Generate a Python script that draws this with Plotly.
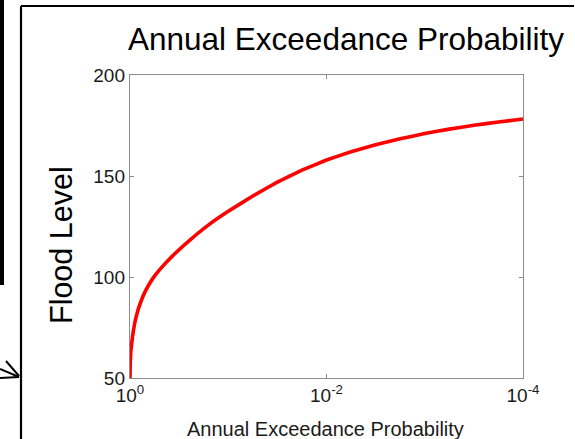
import plotly.graph_objects as go

# Data
aep = [1.0, 0.9954, 0.9817, 0.9397, 0.869, 0.7727, 0.6871, 0.5875, 0.5035,
       0.3631, 0.2455, 0.1535, 0.1, 0.05623, 0.03162, 0.01778, 0.01,
       0.005623, 0.003162, 0.001778, 0.001, 0.0005623, 0.0003162,
       0.0001778, 0.0001]
flood_level = [50, 57, 63, 71, 80, 88, 93.6, 99.2, 103.4,
               110.8, 118.3, 126.3, 132.5, 140.1, 147, 152.9, 157.9,
               162, 165.5, 168.4, 171, 173.2, 175.1,
               176.75, 178.2]

x_tickvals = [1, 1e-2, 1e-4]
x_ticktext = ["10<sup>0</sup>", "10<sup>-2</sup>", "10<sup>-4</sup>"]
y_tickvals = [50, 100, 150, 200]

FONT = "Arial, Liberation Sans, sans-serif"

W, H = 575, 439
# plot area in pixels (for decoration placement)
L, R, T, B = 130, 523, 75, 378
def px(xp):
    return (xp - L) / (R - L)
def py(yp):
    return (B - yp) / (B - T)

fig = go.Figure()
fig.add_trace(go.Scatter(
    x=aep, y=flood_level, mode="lines",
    line=dict(color="#ff0000", width=3.6, shape="spline", smoothing=0.25),
    hoverinfo="skip", showlegend=False,
))

axis_common = dict(
    showgrid=False, zeroline=False, showline=True, linecolor="#8c8c8c",
    linewidth=1.2, mirror="ticks", ticks="inside", ticklen=4,
    tickcolor="#8c8c8c", tickwidth=1,
    tickfont=dict(family=FONT, size=19, color="#1a1a1a"),
)

fig.update_layout(
    width=W, height=H,
    margin=dict(l=L, r=W - R, t=T, b=H - B),
    paper_bgcolor="white", plot_bgcolor="white",
    xaxis=dict(type="log", range=[0, -4], tickvals=x_tickvals,
               ticktext=x_ticktext, **axis_common),
    yaxis=dict(range=[50, 200], tickvals=y_tickvals, **axis_common),
    showlegend=False,
)

fig.add_annotation(text="Annual Exceedance Probability", xref="paper", yref="paper",
                   x=px(345.5), y=py(39), xanchor="center", yanchor="middle",
                   showarrow=False, font=dict(family=FONT, size=31.5, color="black"))
fig.add_annotation(text="Flood Level", xref="paper", yref="paper",
                   x=px(61), y=py(245), xanchor="center", yanchor="middle",
                   textangle=-90, showarrow=False,
                   font=dict(family=FONT, size=30.5, color="black"))
fig.add_annotation(text="Annual Exceedance Probability", xref="paper", yref="paper",
                   x=px(325.5), y=py(429), xanchor="center", yanchor="middle",
                   showarrow=False, font=dict(family=FONT, size=20, color="#1a1a1a"))

# Slide decorations: frame, left bar, arrow
shapes = [
    dict(type="line", x0=px(21), x1=px(574), y0=py(6), y1=py(6),
         line=dict(color="black", width=2.2)),
    dict(type="line", x0=px(21), x1=px(21), y0=py(6), y1=py(440),
         line=dict(color="black", width=2.2)),
    dict(type="rect", x0=px(-1), x1=px(4), y0=py(-1), y1=py(285),
         line=dict(width=0), fillcolor="black"),
    dict(type="line", x0=px(6), x1=px(19), y0=py(361), y1=py(376),
         line=dict(color="black", width=2)),
    dict(type="line", x0=px(0), x1=px(19), y0=py(378), y1=py(377),
         line=dict(color="black", width=2)),
    dict(type="line", x0=px(0), x1=px(19), y0=py(369), y1=py(377),
         line=dict(color="black", width=2)),
]
for s in shapes:
    s.update(xref="paper", yref="paper", layer="above")
    fig.add_shape(**s)

fig.write_html(
    "out.html",
    config={"displayModeBar": False, "staticPlot": True},
    post_script="document.body.style.margin='0';document.body.style.overflow='hidden';",
)
